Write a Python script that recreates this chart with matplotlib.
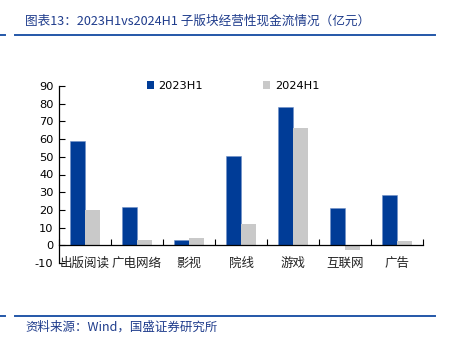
import matplotlib
matplotlib.use("Agg")
import matplotlib.pyplot as plt
from matplotlib.patches import Patch
from matplotlib.lines import Line2D
import numpy as np

plt.rcParams['font.family'] = ['DejaVu Sans', 'Noto Sans CJK SC']

categories = ["出版阅读", "广电网络", "影视", "院线", "游戏", "互联网", "广告"]
h1_2023 = [58.8, 21.5, 2.8, 50.3, 78.0, 20.9, 28.4]
h1_2024 = [20.2, 2.8, 4.1, 11.9, 66.5, -2.4, 2.3]
series_names = ["2023H1", "2024H1"]
y_ticks = [-10, 0, 10, 20, 30, 40, 50, 60, 70, 80, 90]

blue = "#003C97"
gray = "#C9C9C9"
accent = "#2457A8"
title_color = "#1F3C8C"
cjk = ['Noto Sans CJK SC', 'DejaVu Sans']

W, H = 452, 346
fig = plt.figure(figsize=(W / 100, H / 100), dpi=100)

ax = fig.add_axes([59 / W, 1 - 263 / H, (423 - 59) / W, (263 - 86) / H])
x = np.arange(len(categories))
bw = 0.29
ax.bar(x - bw / 2, h1_2023, bw, color=blue, edgecolor="#6F8FC8", linewidth=0.4)
ax.bar(x + bw / 2, h1_2024, bw, color=gray, linewidth=0)

ax.set_xlim(-0.5, len(categories) - 0.5)
ax.set_ylim(-10, 90)
ax.set_yticks(y_ticks)
ax.set_yticklabels([str(v) for v in y_ticks], fontsize=8.2)
ax.tick_params(axis='y', direction='in', length=4, width=0.8, pad=4)

ax.spines['top'].set_visible(False)
ax.spines['right'].set_visible(False)
ax.spines['bottom'].set_position(('data', 0))
ax.spines['left'].set_linewidth(0.9)
ax.spines['bottom'].set_linewidth(0.9)

# boundary ticks between categories, pointing up from the zero line
ax.set_xticks(np.arange(len(categories) + 1) - 0.5)
ax.set_xticklabels([])
ax.tick_params(axis='x', direction='in', length=4, width=0.8)

for xi, name in zip(x, categories):
    ax.text(xi, -10, name, ha='center', va='center', fontsize=9,
            family=cjk, color="#222222")

handles = [Patch(facecolor=blue, edgecolor='none'), Patch(facecolor=gray, edgecolor='none')]
fig.legend(handles, series_names, loc='center left', bbox_to_anchor=(147 / W, 1 - 86 / H),
           ncol=2, frameon=False, fontsize=8.2, handlelength=0.6, handleheight=0.6,
           handletextpad=0.4, columnspacing=5.3, borderaxespad=0, borderpad=0)

# header and footer rules
for yy in (35, 316):
    fig.add_artist(Line2D([0, 5 / W], [1 - yy / H] * 2, color=accent, lw=1.4))
    fig.add_artist(Line2D([15 / W, 435 / W], [1 - yy / H] * 2, color=accent, lw=1.4))

fig.text(25 / W, 1 - 21 / H, "图表13：2023H1vs2024H1 子版块经营性现金流情况（亿元）",
         fontsize=9.1, family=cjk, style='italic', color=title_color, va='center', ha='left')
fig.text(25 / W, 1 - 327 / H, "资料来源：Wind，国盛证券研究所",
         fontsize=9, family=cjk, style='italic', color=title_color, va='center', ha='left')

fig.savefig("out.png", dpi=100)
